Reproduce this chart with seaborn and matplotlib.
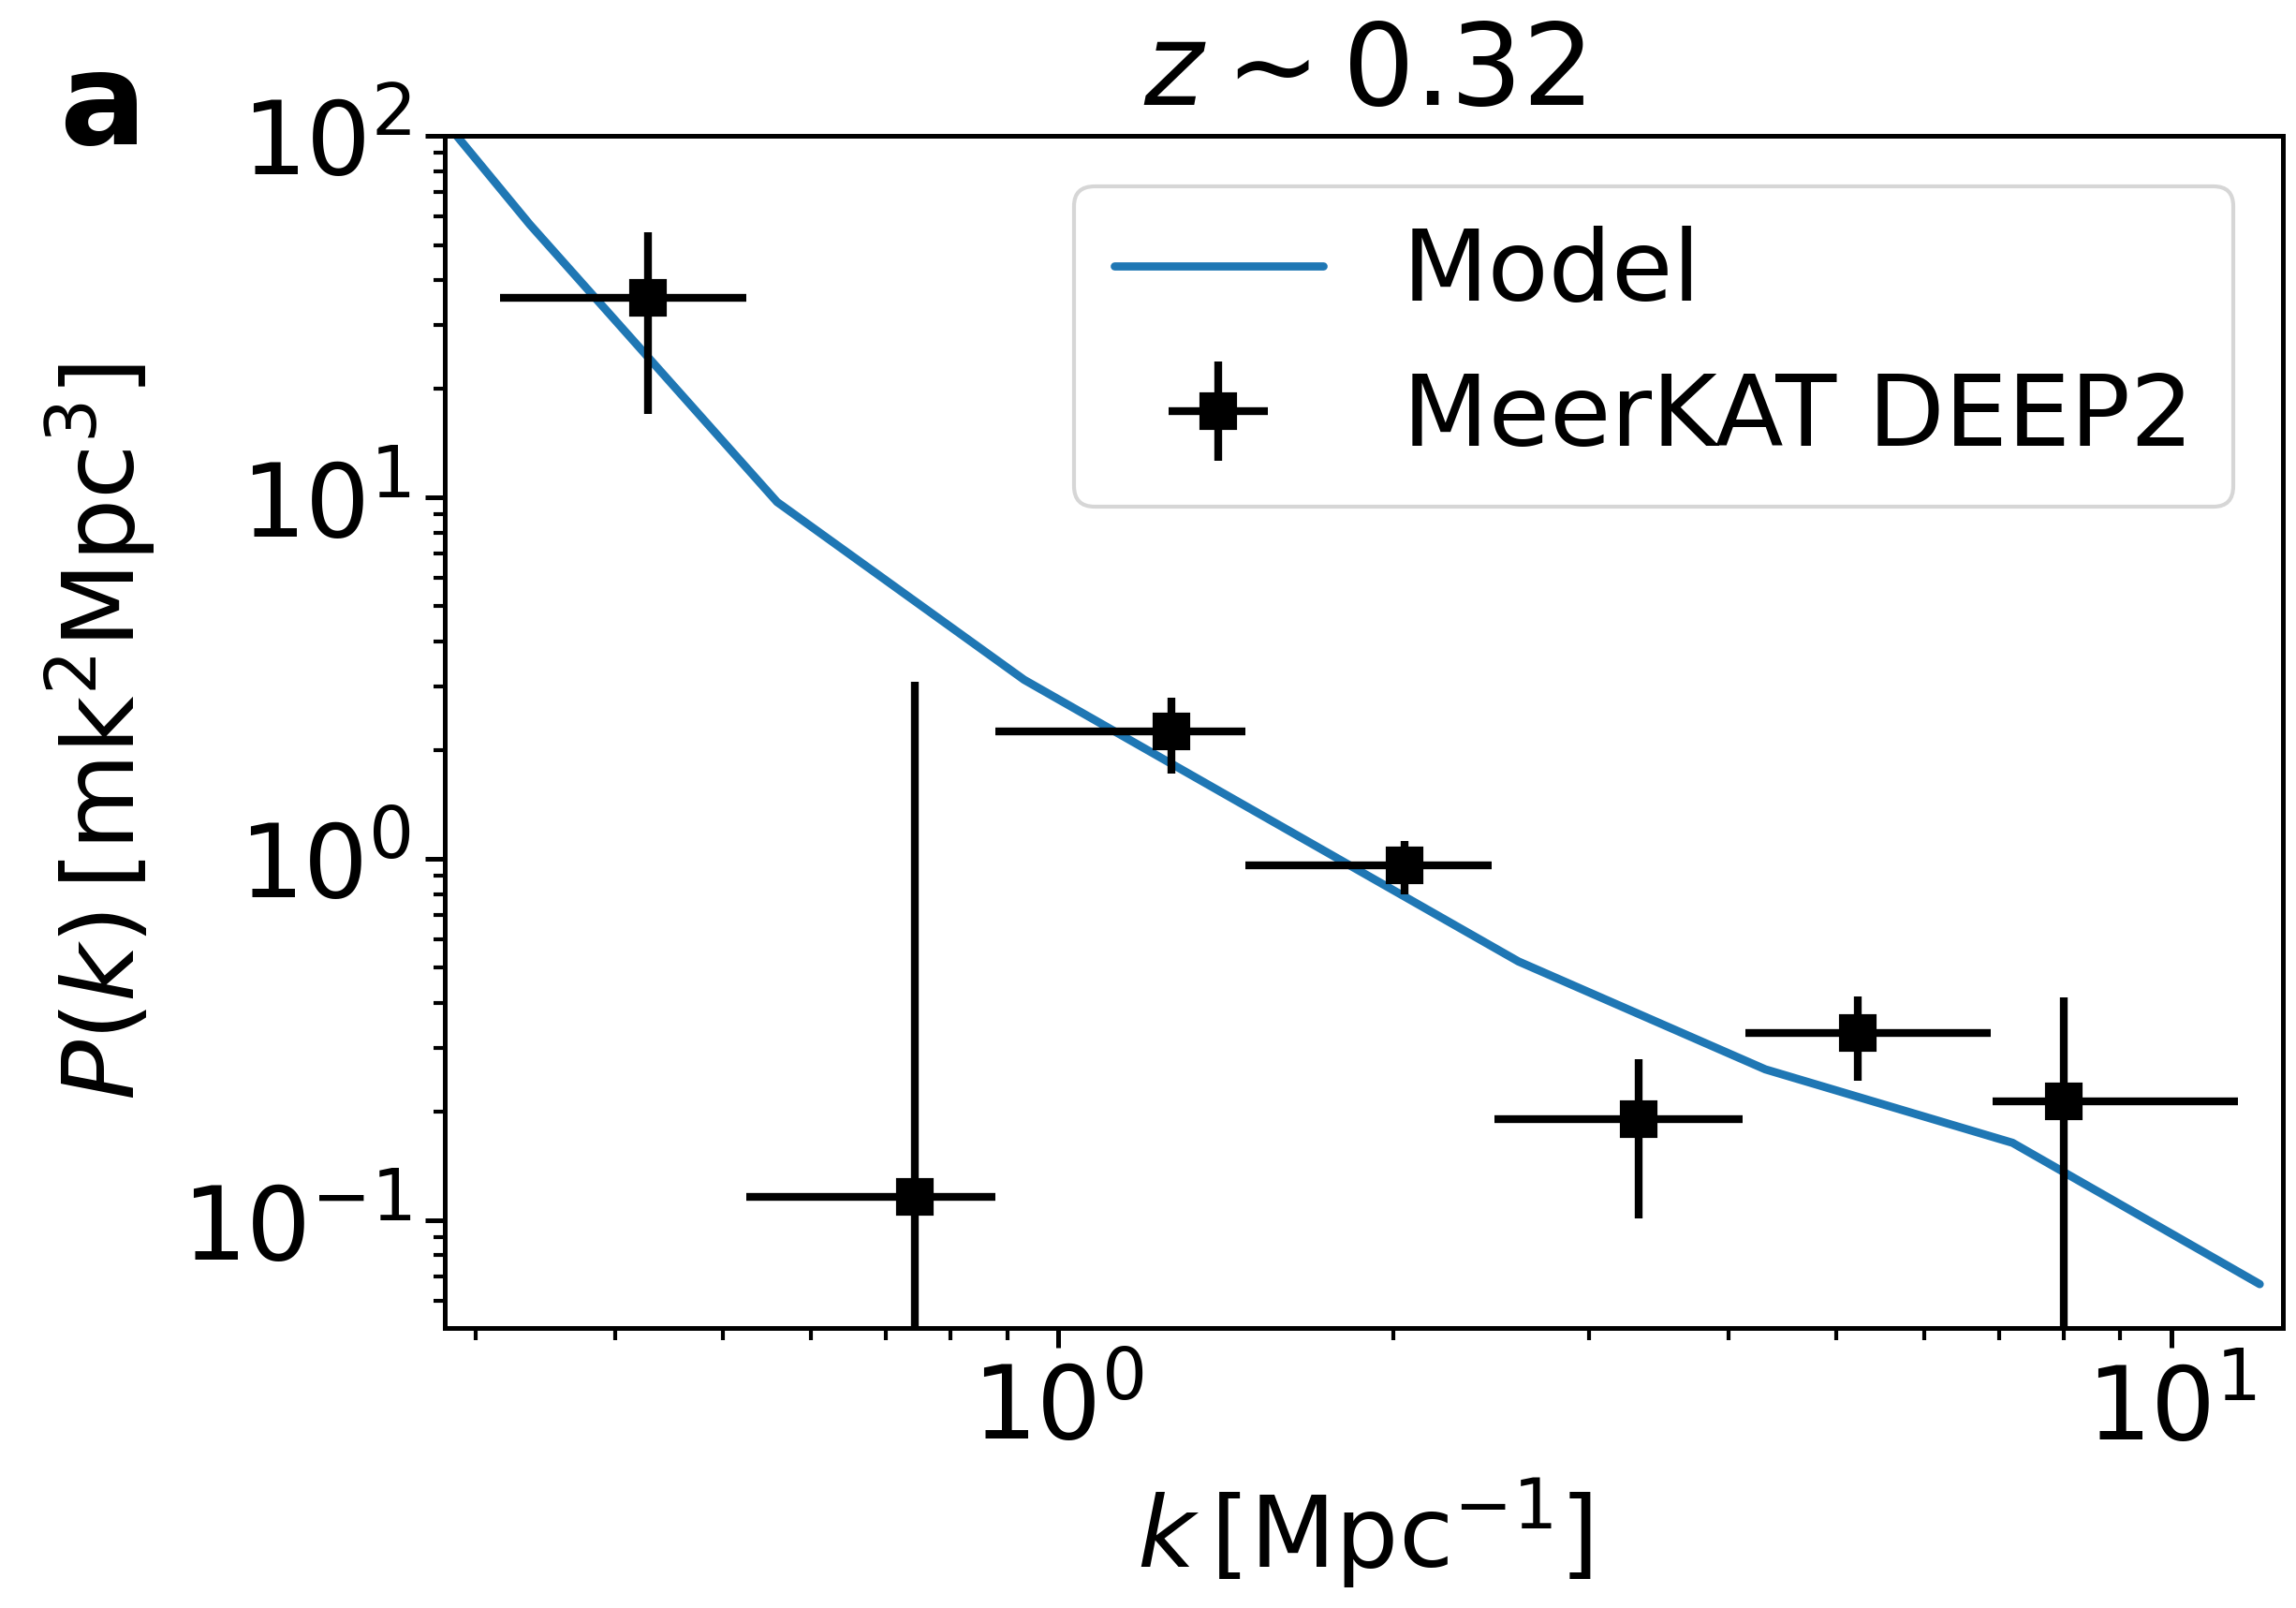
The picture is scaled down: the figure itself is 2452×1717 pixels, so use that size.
import numpy as np
import pandas as pd
import matplotlib
matplotlib.use("Agg")
import matplotlib.pyplot as plt
import seaborn as sns

# ---- data ----
model_k = [0.2011, 0.3353, 0.5591, 0.9320, 1.554, 2.591, 4.319, 7.202, 12.01]
model_P = [384.6, 56.96, 9.725, 3.133, 1.277, 0.5207, 0.2617, 0.1639, 0.0666]

data_k = [0.4282, 0.7430, 1.2632, 2.048, 3.324, 5.224, 8.011]
data_k_lo = [0.3150, 0.5249, 0.8779, 1.474, 2.465, 4.148, 6.906]
data_k_hi = [0.5251, 0.8779, 1.4725, 2.452, 4.124, 6.878, 11.48]
data_P = [35.69, 0.1161, 2.256, 0.9607, 0.1903, 0.3307, 0.2136]
data_P_err = [18.6, 2.98, 0.53, 0.164, 0.089, 0.087, 0.20]

title_text = r"$z\sim0.32$"
panel_label = "a"
xlabel_text = r"$k\,[\mathrm{Mpc^{-1}}]$"
ylabel_text = r"$P(k)\,[\mathrm{mk^2Mpc^3}]$"
legend_model = "Model"
legend_data = "MeerKAT DEEP2"

# ---- style ----
sns.set_theme(style="ticks")
plt.rcParams.update({
    "font.family": ["DejaVu Sans"],
    "mathtext.fontset": "dejavusans",
    "text.color": "black",
    "axes.labelcolor": "black",
    "axes.edgecolor": "black",
    "xtick.color": "black",
    "ytick.color": "black",
    "axes.linewidth": 1.2,
    "xtick.major.width": 1.2,
    "ytick.major.width": 1.2,
    "xtick.minor.width": 1.0,
    "ytick.minor.width": 1.0,
    "xtick.major.size": 5.0,
    "ytick.major.size": 5.0,
    "xtick.minor.size": 3.0,
    "ytick.minor.size": 3.0,
    "xtick.major.pad": 3.5,
    "ytick.major.pad": 3.5,
})

fig = plt.figure(figsize=(2453 / 300, 1717 / 300), dpi=300)
ax = fig.add_subplot(111)
fig.subplots_adjust(left=0.1935, right=0.9939, bottom=0.1740, top=0.9153)

model_df = pd.DataFrame({"k": model_k, "P": model_P})
sns.lineplot(data=model_df, x="k", y="P", ax=ax, color="#1f77b4",
             linewidth=2.1, label=legend_model, sort=True)

k = np.array(data_k)
xerr = np.vstack([k - np.array(data_k_lo), np.array(data_k_hi) - k])
ax.errorbar(data_k, data_P, xerr=xerr, yerr=data_P_err, fmt="s",
            color="black", markersize=8.5, elinewidth=2.0, capsize=0,
            label=legend_data)

ax.set_xscale("log")
ax.set_yscale("log")
ax.set_xlim(0.281, 12.6)
ax.set_ylim(0.0503, 100)

ax.tick_params(axis="both", which="major", labelsize=26)
ax.set_xlabel(xlabel_text, fontsize=25.5)
ax.set_ylabel(ylabel_text, fontsize=25.5, labelpad=6)
ax.set_title(title_text, fontsize=29, pad=8)

for s in ax.spines.values():
    s.set_visible(True)
    s.set_color("black")

ax.legend(loc="upper right", fontsize=25.5, handlelength=2.1,
          frameon=True)

fig.text(0.0257, 0.9105, panel_label, fontsize=33, fontweight="bold",
         ha="left", va="baseline")

fig.savefig("out.png", dpi=300)
